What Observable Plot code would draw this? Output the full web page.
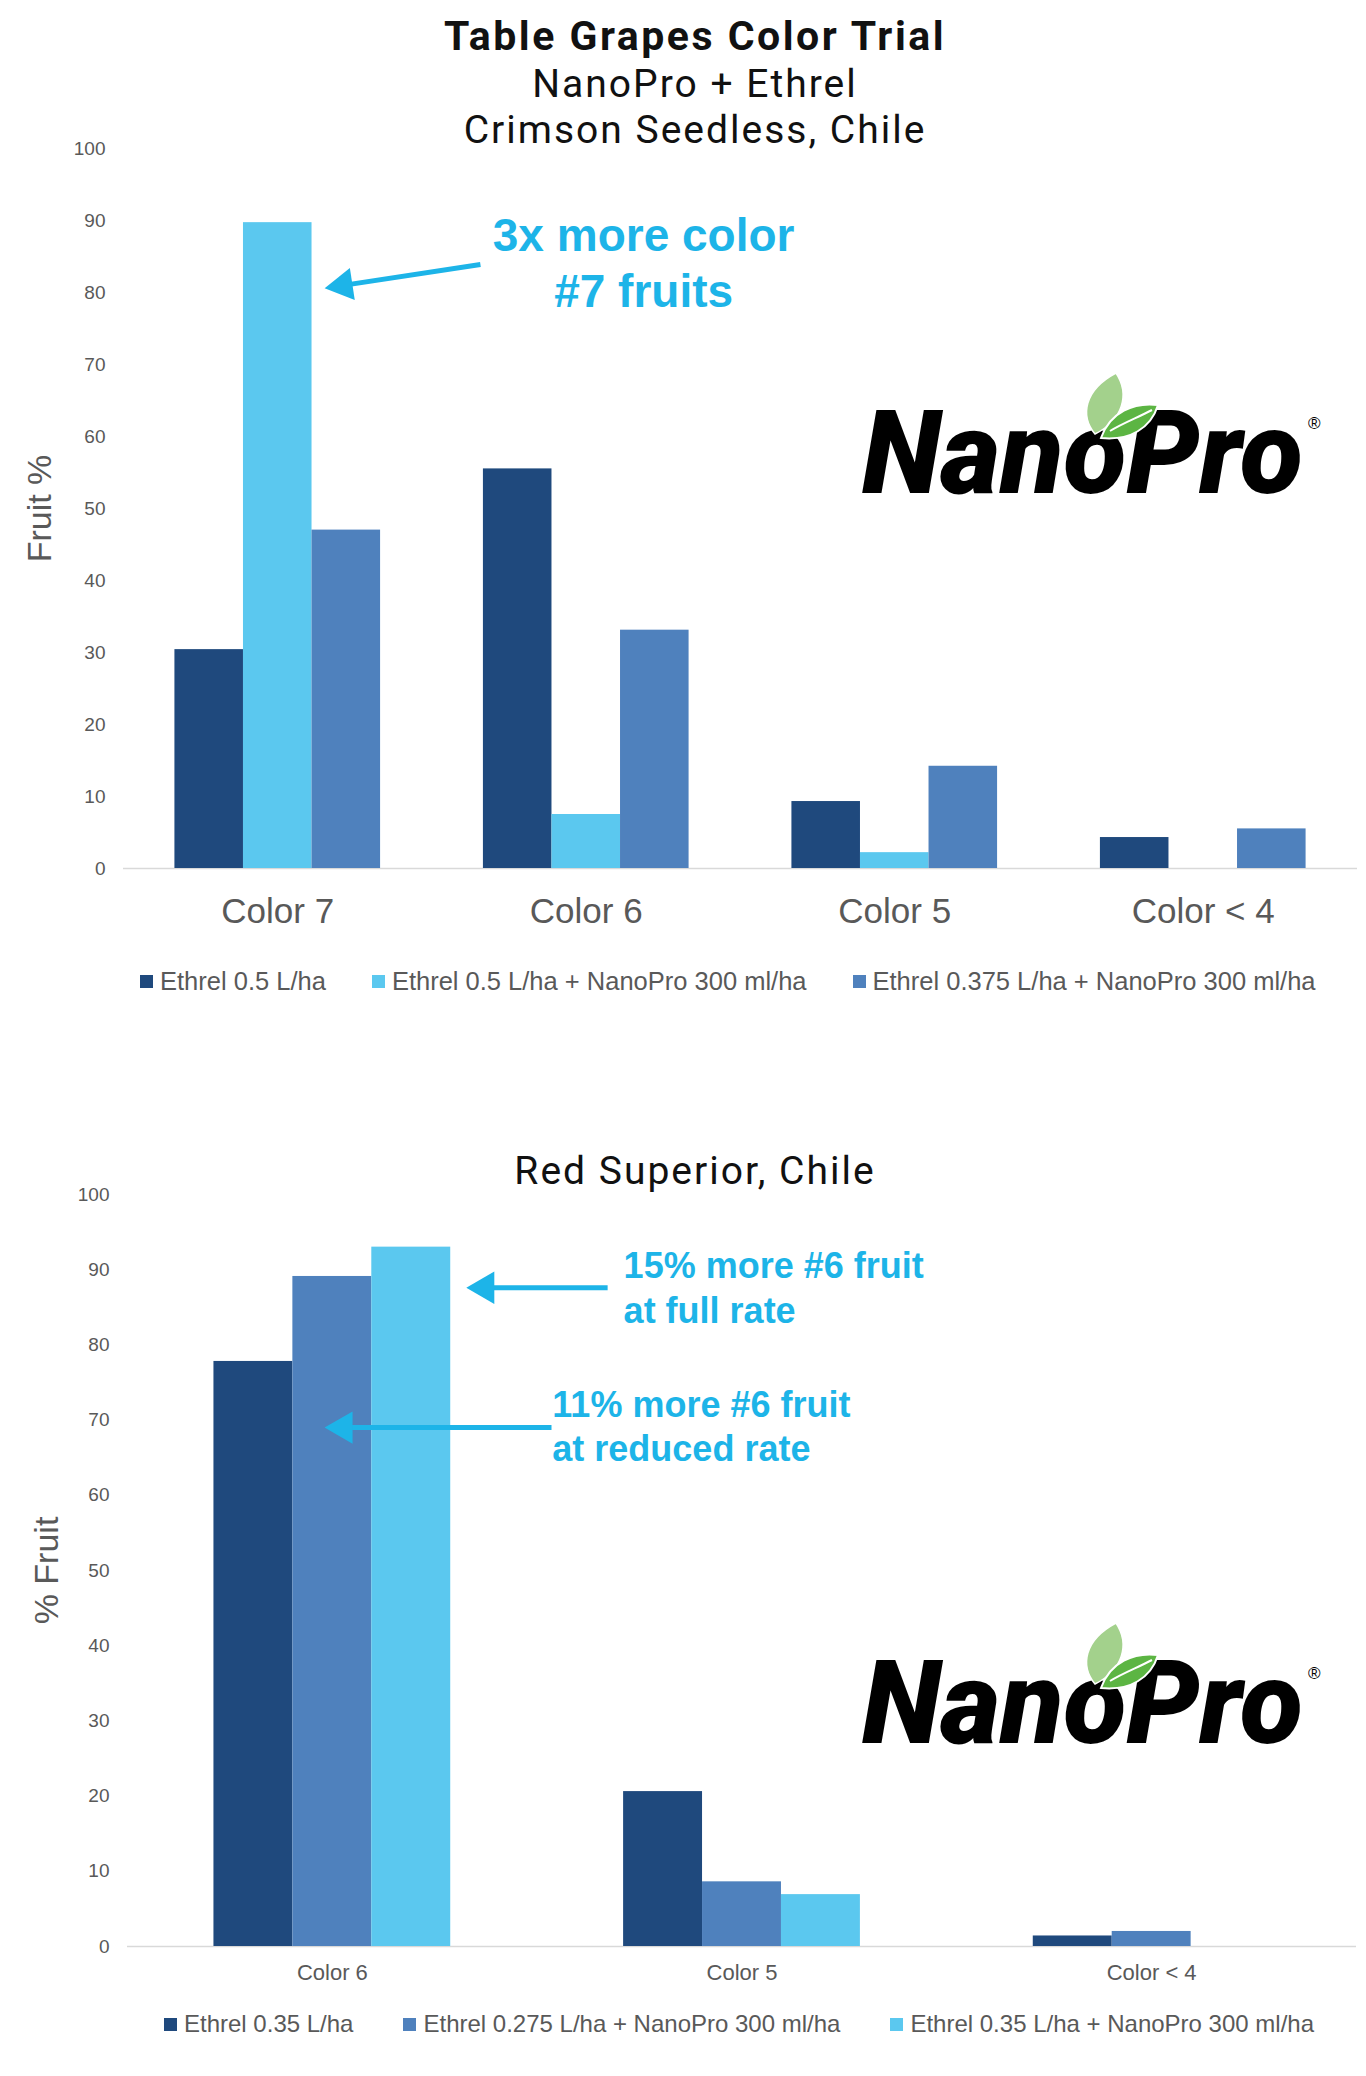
<!DOCTYPE html>
<html>
<head>
<meta charset="utf-8">
<script src="https://cdn.jsdelivr.net/npm/d3@7"></script>
<script src="https://cdn.jsdelivr.net/npm/@observablehq/plot@0.6"></script>
<style>
  html, body { margin: 0; padding: 0; background: #fff; }
  #page { position: relative; width: 1366px; height: 2076px; overflow: hidden; font-family: "Liberation Sans", Arial, sans-serif; }
  .abs { position: absolute; }
  .head { left: 0; width: 1342px; padding-left: 24px; text-align: center; color: #111; font-family: Roboto, "Open Sans", sans-serif; }
  .title { font-weight: 700; font-size: 41px; line-height: 50px; letter-spacing: 2.5px; }
  .sub { font-weight: 400; font-size: 39px; line-height: 46px; letter-spacing: 2px; }
  .legend { display: flex; align-items: center; height: 32px; color: #595959; }
  .legend .item { display: flex; align-items: center; white-space: nowrap; }
  .legend .sw { width: 13px; height: 13px; margin-right: 7px; display: inline-block; }
</style>
</head>
<body>
<div id="page"></div>
<script>
// ---------- data ----------
const topCategories = ["Color 7", "Color 6", "Color 5", "Color < 4"];
const topSeries = ["Ethrel 0.5 L/ha", "Ethrel 0.5 L/ha + NanoPro 300 ml/ha", "Ethrel 0.375 L/ha + NanoPro 300 ml/ha"];
const topEthrel05 = [30.4, 55.5, 9.3, 4.3];
const topEthrel05Nano = [89.7, 7.5, 2.2, 0];
const topEthrel0375Nano = [47.0, 33.1, 14.2, 5.5];

const botCategories = ["Color 6", "Color 5", "Color < 4"];
const botSeries = ["Ethrel 0.35 L/ha", "Ethrel 0.275 L/ha + NanoPro 300 ml/ha", "Ethrel 0.35 L/ha + NanoPro 300 ml/ha"];
const botEthrel035 = [77.8, 20.6, 1.4];
const botEthrel0275Nano = [89.1, 8.6, 2.0];
const botEthrel035Nano = [93.0, 6.9, 0];

const yTicks = [0, 10, 20, 30, 40, 50, 60, 70, 80, 90, 100];

// ---------- styles ----------
const DARK = "#1f497d", MID = "#4f81bd", LIGHT = "#5bc8ef", CYAN = "#1db4e8", GRAY = "#595959";

const page = document.getElementById("page");

function el(tag, cls, style, html) {
  const e = document.createElement(tag);
  if (cls) e.className = cls;
  if (style) Object.assign(e.style, style);
  if (html != null) e.innerHTML = html;
  return e;
}

function chart(cfg) {
  const {cats, series, values, colors, width, height, mt, mb, ml, mr, groupFrac, xFont, xPad, yLabel, yLabelDx, texts, arrows, textAnchor} = cfg;
  const n = series.length;
  const bw = groupFrac / n;
  const rows = [];
  cats.forEach((c, i) => series.forEach((s, j) => rows.push({
    cat: c, series: s, value: values[j][i],
    x1: i + (1 - groupFrac) / 2 + j * bw,
    x2: i + (1 - groupFrac) / 2 + (j + 1) * bw
  })));
  const kx = (width - ml - mr) / cats.length;
  const ky = (height - mt - mb) / 100;
  const r = 12;
  const back = 2 * Math.sqrt((Math.PI * r * r) / (3 * Math.sqrt(3)));
  const arrowMarks = [];
  for (const a of arrows) {
    const dxp = (a.x2 - a.x1) * kx, dyp = -(a.y2 - a.y1) * ky;
    const len = Math.hypot(dxp, dyp);
    const ux = dxp / len, uy = dyp / len;
    const xe = a.x2 - ux * back / kx, ye = a.y2 + uy * back / ky;
    arrowMarks.push(Plot.link([a], {x1: "x1", y1: "y1", x2: () => xe, y2: () => ye, stroke: CYAN, strokeWidth: 5}));
    arrowMarks.push(Plot.dot([a], {x: "x2", y: "y2", r, symbol: "triangle", fill: CYAN, stroke: null,
      rotate: Math.atan2(ux, -uy) * 180 / Math.PI, dx: -ux * back, dy: -uy * back}));
  }
  return Plot.plot({
    width, height, marginTop: mt, marginBottom: mb, marginLeft: ml, marginRight: mr,
    style: {fontFamily: "'Liberation Sans', Arial, sans-serif", color: GRAY, background: "transparent", overflow: "visible"},
    x: {type: "linear", domain: [0, cats.length], axis: null},
    y: {domain: [0, 100], axis: null},
    color: {domain: series, range: colors},
    marks: [
      Plot.ruleY([0], {stroke: "#d9d9d9", strokeWidth: 1.5}),
      Plot.rectY(rows, {x1: "x1", x2: "x2", y1: 0, y2: "value", fill: "series"}),
      Plot.axisY({ticks: yTicks, tickSize: 0, tickPadding: 18, fontSize: 19, label: null, fill: GRAY}),
      Plot.axisX({ticks: cats.map((_, i) => i + 0.5), tickFormat: d => cats[Math.floor(d)], tickSize: 0, tickPadding: xPad, fontSize: xFont, label: null, fill: GRAY}),
      Plot.text([yLabel], {text: d => d, frameAnchor: "left", textAnchor: "middle", lineAnchor: "middle", dx: yLabelDx, rotate: -90, fontSize: 34, fill: GRAY}),
      ...arrowMarks,
      Plot.text(texts, {x: "x", y: "y", text: "text", fill: CYAN, fontSize: cfg.annFont, fontWeight: "bold", textAnchor})
    ]
  });
}

function legend(series, colors, top, left, gap, font) {
  const d = el("div", "abs legend", {top: top + "px", left: left + "px", gap: gap + "px", fontSize: font + "px"});
  series.forEach((s, i) => {
    const it = el("div", "item");
    it.appendChild(el("span", "sw", {background: colors[i]}));
    it.appendChild(el("span", null, null, s));
    d.appendChild(it);
  });
  page.appendChild(d);
}

function logo(left, top) {
  const svg = `<svg width="500" height="165" viewBox="0 0 500 165" xmlns="http://www.w3.org/2000/svg" style="overflow:visible">
    <text x="2" y="123" textLength="441" lengthAdjust="spacingAndGlyphs" font-family="Roboto, Inter, 'DejaVu Sans', sans-serif" font-weight="900" font-style="italic" font-size="117" fill="#000">NanoPro</text>
    <path d="M235 64 C220 46 224 20 256 3 C270 24 263 50 235 64 Z" fill="#a3d18c" stroke="#fff" stroke-width="1.5"/>
    <path d="M241 68 C250 42 274 32 298 35 C291 58 270 71 241 68 Z" fill="#5cb543" stroke="#fff" stroke-width="2"/>
    <path d="M250 61 C263 53 279 47 292 40" fill="none" stroke="#fff" stroke-width="2"/>
    <text x="448" y="59" font-family="'Liberation Sans', Arial, sans-serif" font-size="17" fill="#000">®</text>
  </svg>`;
  page.appendChild(el("div", "abs", {left: left + "px", top: top + "px"}, svg));
}

// ---------- top chart ----------
const topSvg = chart({
  cats: topCategories, series: topSeries,
  values: [topEthrel05, topEthrel05Nano, topEthrel0375Nano],
  colors: [DARK, LIGHT, MID],
  width: 1366, height: 810, mt: 20, mb: 70, ml: 123, mr: 9,
  groupFrac: 2 / 3, xFont: 35, xPad: 30, yLabel: "Fruit %", yLabelDx: -83,
  annFont: 46, textAnchor: "middle",
  texts: [{text: "3x more color", x: 1.686, y: 87.8}, {text: "#7 fruits", x: 1.686, y: 80.0}],
  arrows: [{x1: 1.157, y1: 83.9, x2: 0.652, y2: 80.6}]
});
Object.assign(topSvg.style, {position: "absolute", top: "128px", left: "0px"});
page.appendChild(topSvg);

// ---------- bottom chart ----------
const botSvg = chart({
  cats: botCategories, series: botSeries,
  values: [botEthrel035, botEthrel0275Nano, botEthrel035Nano],
  colors: [DARK, MID, LIGHT],
  width: 1366, height: 822, mt: 20, mb: 50, ml: 127, mr: 10,
  groupFrac: 0.578, xFont: 22, xPad: 18, yLabel: "% Fruit", yLabelDx: -80,
  annFont: 36, textAnchor: "start",
  texts: [
    {text: "15% more #6 fruit", x: 1.211, y: 90.4}, {text: "at full rate", x: 1.211, y: 84.4},
    {text: "11% more #6 fruit", x: 1.037, y: 71.9}, {text: "at reduced rate", x: 1.037, y: 66.1}
  ],
  arrows: [{x1: 1.172, y1: 87.6, x2: 0.827, y2: 87.6}, {x1: 1.035, y1: 69.0, x2: 0.481, y2: 69.0}]
});
Object.assign(botSvg.style, {position: "absolute", top: "1174px", left: "0px"});
page.appendChild(botSvg);

// ---------- titles ----------
const head = el("div", "abs head", {top: "11px"});
head.appendChild(el("div", "title", null, "Table Grapes Color Trial"));
head.appendChild(el("div", "sub", null, "NanoPro + Ethrel"));
head.appendChild(el("div", "sub", null, "Crimson Seedless, Chile"));
page.appendChild(head);
const head2 = el("div", "abs head", {top: "1148px"});
head2.appendChild(el("div", "sub", null, "Red Superior, Chile"));
page.appendChild(head2);

// ---------- legends ----------
legend(topSeries, [DARK, LIGHT, MID], 965, 140, 46, 25.5);
legend(botSeries, [DARK, MID, LIGHT], 2008, 164, 50, 24);

// ---------- logos ----------
logo(860, 370);
logo(860, 1620);
</script>
</body>
</html>
